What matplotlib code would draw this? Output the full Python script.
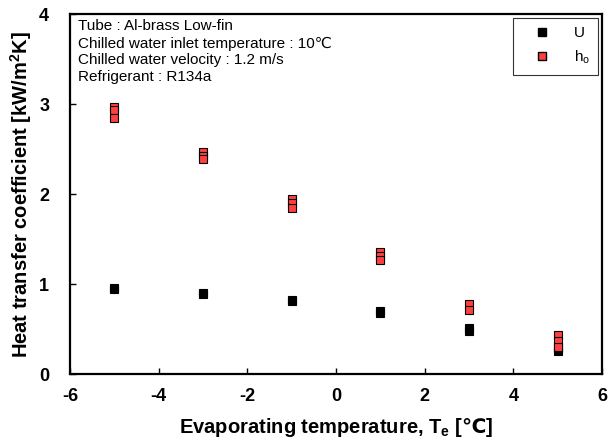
import matplotlib
matplotlib.use('Agg')
import matplotlib.pyplot as plt
from matplotlib.lines import Line2D

plt.rcParams['font.family'] = ['Liberation Sans', 'DejaVu Sans']
plt.rcParams['axes.unicode_minus'] = False
plt.rcParams['mathtext.fontset'] = 'custom'
plt.rcParams['mathtext.rm'] = 'Liberation Sans'
plt.rcParams['mathtext.sf'] = 'Liberation Sans:bold'
plt.rcParams['mathtext.bf'] = 'DejaVu Sans:bold'

# evaporating temperature [C] and measured values (repeated runs)
te_u = [-5, -5, -3, -3, -1, -1, 1, 1, 3, 3, 5, 5]
u_vals = [0.96, 0.95, 0.90, 0.89, 0.82, 0.81, 0.70, 0.68, 0.51, 0.48, 0.29, 0.26]
te_h = [-5, -5, -5, -3, -3, -3, -1, -1, -1, 1, 1, 1, 3, 3, 5, 5, 5]
h_vals = [2.97, 2.93, 2.84, 2.47, 2.42, 2.39, 1.94, 1.90, 1.85,
          1.36, 1.31, 1.27, 0.78, 0.71, 0.43, 0.37, 0.30]

info_lines = ['Tube : Al-brass Low-fin',
              'Chilled water inlet temperature : 10\u2103',
              'Chilled water velocity : 1.2 m/s',
              'Refrigerant : R134a']

fig = plt.figure(figsize=(6.11, 4.46), dpi=100)
ax = fig.add_axes([0.1146, 0.1614, 0.8707, 0.8072])

ax.plot(te_u, u_vals, 's', ms=6, color='black', mec='black', mew=0.8, zorder=3)
ax.plot(te_h, h_vals, 's', ms=6, color='#ff4040', mec='black', mew=0.8, zorder=3)

ax.set_xlim(-6, 6)
ax.set_ylim(0, 4)
ax.set_xticks([-6, -4, -2, 0, 2, 4, 6])
ax.set_yticks([0, 1, 2, 3, 4])
ax.tick_params(direction='in', length=4, width=1, labelsize=13)
ax.tick_params(axis='y', pad=15)
ax.tick_params(axis='x', pad=10)
for lab in ax.get_xticklabels() + ax.get_yticklabels():
    lab.set_fontweight('bold')
for s in ax.spines.values():
    s.set_linewidth(1.6)

ax.set_xlabel('Evaporating temperature, T$_\\mathsf{e}$ [$\\mathbf{\u2103}$]',
              fontsize=14.5, fontweight='bold', labelpad=8)
ax.set_ylabel('Heat transfer coefficient [kW/m$^\\mathsf{2}$K]',
              fontsize=14.5, fontweight='bold', labelpad=4)

ax.text(0.015, 0.985, '\n'.join(info_lines), transform=ax.transAxes, va='top', ha='left',
        fontsize=11, linespacing=1.27)

handles = [Line2D([], [], marker='s', ls='none', ms=6, color='black', mec='black'),
           Line2D([], [], marker='s', ls='none', ms=6, color='#ff4040', mec='black')]
leg = ax.legend(handles, ['U', 'h$_\\mathrm{o}$'], loc='upper right', fontsize=11,
                fancybox=False, edgecolor='black', handletextpad=0.8, borderpad=0.55,
                handlelength=2.6, labelspacing=0.55, bbox_to_anchor=(0.993, 0.99),
                borderaxespad=0)
leg.get_frame().set_linewidth(0.8)

fig.savefig('out.png', dpi=100)
